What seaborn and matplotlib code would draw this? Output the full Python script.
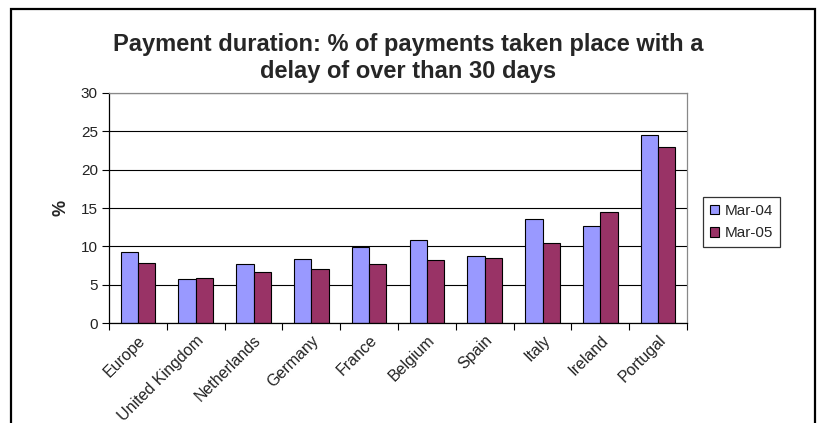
import numpy as np
import pandas as pd
import matplotlib
matplotlib.use("Agg")
import matplotlib.pyplot as plt
import seaborn as sns
from matplotlib.patches import Rectangle

countries = ["Europe", "United Kingdom", "Netherlands", "Germany", "France",
             "Belgium", "Spain", "Italy", "Ireland", "Portugal"]
mar04 = [9.2, 5.7, 7.7, 8.3, 9.9, 10.8, 8.7, 13.6, 12.6, 24.5]
mar05 = [7.8, 5.9, 6.6, 7.0, 7.7, 8.2, 8.5, 10.4, 14.5, 22.9]
series = ["Mar-04", "Mar-05"]
colors = ["#9999FF", "#993366"]

df = pd.DataFrame({
    "country": countries * 2,
    "value": mar04 + mar05,
    "period": [series[0]] * len(countries) + [series[1]] * len(countries),
})

sns.set_style("white")
plt.rcParams["font.family"] = ["Liberation Sans", "DejaVu Sans"]

fig = plt.figure(figsize=(8.19, 4.23), dpi=100)
ax = fig.add_axes([109 / 819, 1 - 323 / 423, (687 - 109) / 819, (323 - 93) / 423])

sns.barplot(data=df, x="country", y="value", hue="period", palette=colors,
            width=0.6, gap=0, edgecolor="black", linewidth=0.8, ax=ax,
            saturation=1)

ax.set_ylim(0, 30)
ax.set_xlim(-0.5, len(countries) - 0.5)
ax.set_yticks(range(0, 31, 5))
ax.yaxis.grid(True, color="black", linewidth=0.8)
ax.set_axisbelow(True)
ax.tick_params(axis="y", direction="out", length=5, width=0.8, colors="black",
               labelsize=11, labelcolor="#222222", left=True, pad=3)
ax.set_xticks(np.arange(len(countries)))
ax.set_xticklabels(countries, rotation=45, ha="right", rotation_mode="anchor",
                   fontsize=11.5, color="#222222")
ax.tick_params(axis="x", length=0, pad=7)
ax.set_xticks(np.arange(-0.5, len(countries)), minor=True)
ax.tick_params(axis="x", which="minor", direction="out", length=5, width=0.8,
               colors="black", bottom=True)
ax.set_xlabel("")
ax.set_ylabel("%", fontsize=13, fontweight="bold", labelpad=8)

for side in ["left", "bottom"]:
    ax.spines[side].set_color("black")
    ax.spines[side].set_linewidth(0.9)
for side in ["top", "right"]:
    ax.spines[side].set_color("#888888")
    ax.spines[side].set_linewidth(0.9)

handles, labels = ax.get_legend_handles_labels()
leg = ax.legend(handles, labels, loc="upper left", bbox_to_anchor=(703 / 819, 1 - 197 / 423),
                bbox_transform=fig.transFigure, frameon=True, fancybox=False,
                fontsize=11, handlelength=0.6, handleheight=0.6, handletextpad=0.4,
                borderpad=0.45, labelspacing=0.55, borderaxespad=0)
leg.get_frame().set_edgecolor("black")
leg.get_frame().set_linewidth(0.9)

fig.text(0.498, 1 - 58 / 423, "Payment duration: % of payments taken place with a\ndelay of over than 30 days",
         ha="center", va="center", fontsize=17, fontweight="bold", linespacing=1.25)

fig.patches.append(Rectangle((11 / 819, -0.05), (815 - 11) / 819, 1.05 - 9 / 423,
                             transform=fig.transFigure, fill=False,
                             edgecolor="black", linewidth=1.6))

fig.savefig("out.png", dpi=100)
